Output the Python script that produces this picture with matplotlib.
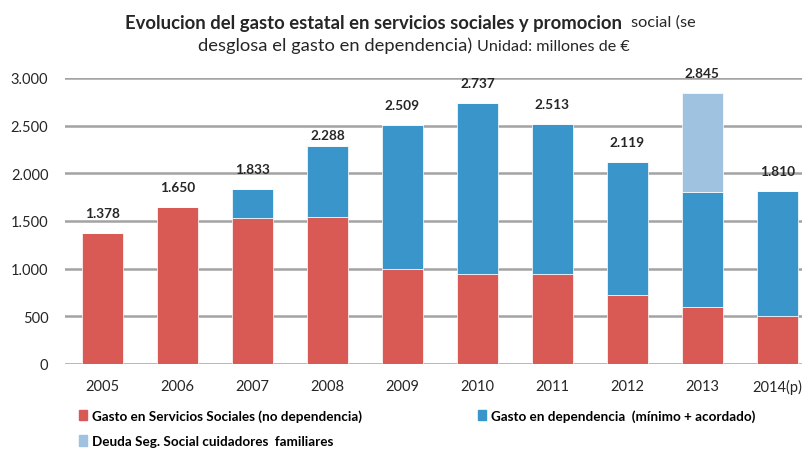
import matplotlib
matplotlib.use("Agg")
import matplotlib.pyplot as plt
from matplotlib.patches import Patch
import numpy as np

years = ["2005", "2006", "2007", "2008", "2009", "2010", "2011", "2012", "2013", "2014(p)"]
servicios_sociales = [1378, 1650, 1530, 1545, 1000, 940, 940, 720, 600, 500]
dependencia = [0, 0, 303, 743, 1509, 1797, 1573, 1399, 1200, 1310]
deuda_ss = [0, 0, 0, 0, 0, 0, 0, 0, 1045, 0]
totals = [1378, 1650, 1833, 2288, 2509, 2737, 2513, 2119, 2845, 1810]
total_labels = ["1.378", "1.650", "1.833", "2.288", "2.509", "2.737", "2.513", "2.119", "2.845", "1.810"]
yticks = [0, 500, 1000, 1500, 2000, 2500, 3000]
ytick_labels = ["0", "500", "1.000", "1.500", "2.000", "2.500", "3.000"]
legend_labels = ["Gasto en Servicios Sociales (no dependencia)",
                 "Gasto en dependencia  (mínimo + acordado)",
                 "Deuda Seg. Social cuidadores  familiares"]

RED = "#D95A55"
BLUE = "#3A96CA"
LIGHT = "#9EC2E0"
GRID = "#A3A3A3"
TXT = "#262626"
FONT = ["Lato", "DejaVu Sans"]

plt.rcParams['font.family'] = FONT

fig = plt.figure(figsize=(8.02, 4.52), dpi=100)
ax = fig.add_axes([65/802, 1-365/452, 1-65/802, (365-79)/452])

x = np.arange(len(years))
w = 0.55
ss = np.array(servicios_sociales)
dp = np.array(dependencia)
dd = np.array(deuda_ss)
ax.bar(x, ss, w, color=RED, zorder=3, edgecolor="white", linewidth=0.5)
ax.bar(x, dp, w, bottom=ss, color=BLUE, zorder=3, edgecolor="white", linewidth=0.5)
ax.bar(x, dd, w, bottom=ss + dp, color=LIGHT, zorder=3, edgecolor="white", linewidth=0.5)

label_offsets = [20, 20, 20, 11, 20, 20, 20, 20, 20, 20]
for xi, t, lab, off in zip(x, totals, total_labels, label_offsets):
    ax.annotate(lab, (xi, t), xytext=(0, off * 0.72), textcoords="offset points",
                ha="center", va="center", fontsize=9.8, fontweight="bold", color=TXT, zorder=5)

ax.set_ylim(0, 3000)
ax.set_xlim(-0.5, 9.33)
ax.set_yticks(yticks)
ax.set_yticklabels(ytick_labels)
ax.set_xticks(x)
ax.set_xticklabels(years)
ax.tick_params(axis="both", length=0, labelsize=10.5, colors=TXT)
ax.tick_params(axis="y", pad=12)
ax.tick_params(axis="x", pad=11)
ax.grid(axis="y", color=GRID, linewidth=1.8, zorder=0)
for s in ["top", "right", "left", "bottom"]:
    ax.spines[s].set_visible(False)
ax.set_axisbelow(True)

# Title
fig.text(622/802, 1-23/452, "Evolucion del gasto estatal en servicios sociales y promocion",
         ha="right", va="center", fontsize=13.3, fontweight="bold", color=TXT)
fig.text(631/802, 1-23/452, "social (se", ha="left", va="center", fontsize=11.8, color=TXT)
fig.text(472/802, 1-46/452, "desglosa el gasto en dependencia)", ha="right", va="center",
         fontsize=13.2, color=TXT)
fig.text(477/802, 1-47/452, "Unidad: millones de €", ha="left", va="center",
         fontsize=11.6, color=TXT)

handles = [Patch(color=RED), Patch(color=LIGHT), Patch(color=BLUE)]
labs = [legend_labels[0], legend_labels[2], legend_labels[1]]
fig.legend(handles, labs, loc="upper left", bbox_to_anchor=(79/802, 1-410/452), ncol=2,
           frameon=False, handlelength=0.6, handleheight=0.8,
           handletextpad=0.35, columnspacing=8.6, labelspacing=1.0,
           prop={"weight": "bold", "size": 9.75, "family": FONT}, borderaxespad=0, borderpad=0)

fig.savefig("out.png", dpi=100)
